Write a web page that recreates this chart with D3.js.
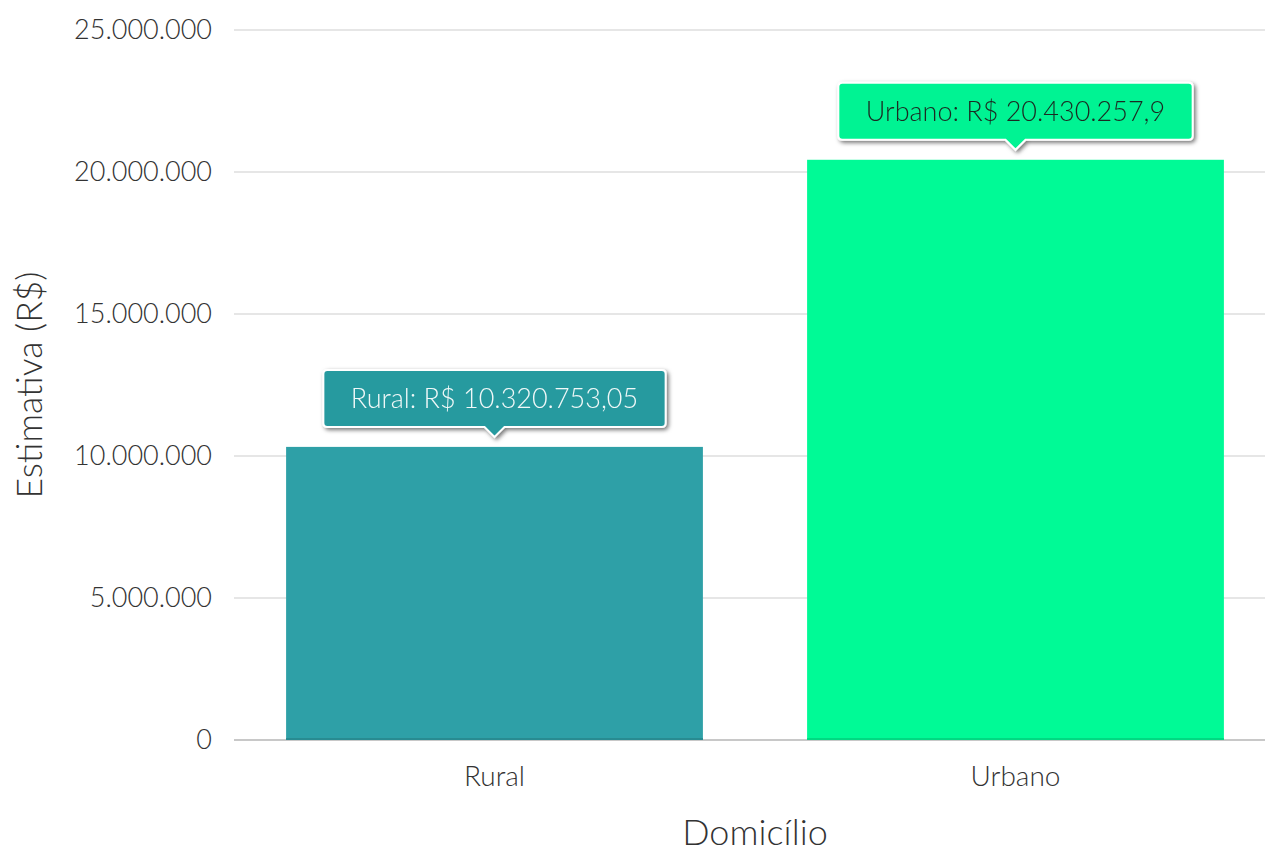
<!DOCTYPE html>
<html><head><meta charset="utf-8">
<script src="https://cdn.jsdelivr.net/npm/d3@7"></script>
<style>body{margin:0;background:#fff;} svg{display:block;font-family:Lato,"Open Sans",sans-serif;}</style>
</head><body><svg id="c" width="1265" height="850"></svg>
<script>
const categories = ["Rural", "Urbano"];
const values = [10320753.05, 20430257.9];
const labels = ["Rural: R$ 10.320.753,05", "Urbano: R$ 20.430.257,9"];
const barColors = ["#2ea0a7", "#00fa96"];
const tipColors = ["#279a9f", "#00f393"];
const tipText = ["#f0f8f8", "#1b2a22"];
const yTicks = [0, 5000000, 10000000, 15000000, 20000000, 25000000];

const svg = d3.select("#c");
const defs = svg.append("defs");
const f = defs.append("filter").attr("id","sh").attr("x","-20%").attr("y","-40%").attr("width","140%").attr("height","200%");
f.append("feDropShadow").attr("dx",2).attr("dy",2).attr("stdDeviation",2).attr("flood-color","#000").attr("flood-opacity",0.55);

const y = d3.scaleLinear().domain([0, 25000000]).range([740, 30]);
const x = d3.scaleBand().domain(categories).range([234, 1276]).paddingInner(0.2).paddingOuter(0.1);
const fmt = v => d3.format(",")(v).replace(/,/g, ".");

// grid
svg.append("g").selectAll("line").data(yTicks).join("line")
  .attr("x1",234).attr("x2",1265).attr("y1",d=>y(d)).attr("y2",d=>y(d))
  .attr("stroke",d=>d===0?"#c8c8c8":"#dedede").attr("stroke-width",d=>d===0?2:1.5);

// y tick labels
svg.append("g").selectAll("text").data(yTicks).join("text")
  .attr("x",212).attr("y",d=>y(d)).attr("dy","0.35em").attr("text-anchor","end")
  .attr("font-size",27).attr("font-weight",300).attr("fill","#333").text(fmt);

// bars
svg.append("g").selectAll("rect").data(values).join("rect")
  .attr("x",(d,i)=>x(categories[i])).attr("width",x.bandwidth())
  .attr("y",d=>y(d)).attr("height",d=>y(0)-y(d))
  .attr("fill",(d,i)=>barColors[i]);
svg.append("g").selectAll("line").data(values).join("line")
  .attr("x1",(d,i)=>x(categories[i])).attr("x2",(d,i)=>x(categories[i])+x.bandwidth())
  .attr("y1",y(0)-1).attr("y2",y(0)-1)
  .attr("stroke",(d,i)=>d3.color(barColors[i]).darker(0.4)).attr("stroke-width",2);

// category labels
svg.append("g").selectAll("text").data(categories).join("text")
  .attr("x",d=>x(d)+x.bandwidth()/2).attr("y",776).attr("dy","0.35em").attr("text-anchor","middle")
  .attr("font-size",28).attr("font-weight",300).attr("fill","#333").text(d=>d);

// axis titles
svg.append("text").attr("x",755).attr("y",832).attr("dy","0.35em").attr("text-anchor","middle")
  .attr("font-size",36).attr("font-weight",300).attr("fill","#333").text("Domicílio");
svg.append("text").attr("transform","translate(30,385) rotate(-90)").attr("dy","0.35em").attr("text-anchor","middle")
  .attr("font-size",35.5).attr("font-weight",300).attr("fill","#333").text("Estimativa (R$)");

// tooltips
values.forEach((v,i)=>{
  const cx = x(categories[i]) + x.bandwidth()/2;
  const tipY = y(v) - 10;
  const g = svg.append("g").attr("filter","url(#sh)");
  const t = g.append("text").attr("x",cx).attr("y",tipY-10-28).attr("dy","0.35em").attr("text-anchor","middle")
    .attr("font-size",27).attr("font-weight",300).attr("fill",tipText[i]).text(labels[i]);
  const bb = t.node().getBBox();
  const w = bb.width + 55, h = 57;
  const x0 = cx - w/2, y0 = tipY - 10 - h, yb = tipY - 10, r = 4;
  const p = `M${x0+r},${y0} H${x0+w-r} Q${x0+w},${y0} ${x0+w},${y0+r} V${yb-r} Q${x0+w},${yb} ${x0+w-r},${yb} H${cx+10} L${cx},${tipY} L${cx-10},${yb} H${x0+r} Q${x0},${yb} ${x0},${yb-r} V${y0+r} Q${x0},${y0} ${x0+r},${y0} Z`;
  g.insert("path","text").attr("d",p).attr("fill",tipColors[i]).attr("stroke","#fff").attr("stroke-width",2);
});
</script></body></html>
